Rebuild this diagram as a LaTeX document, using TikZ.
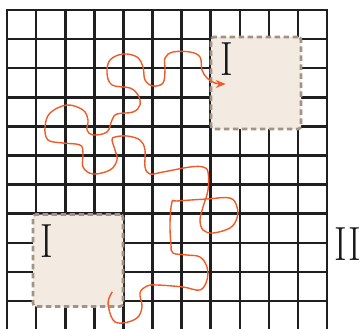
\documentclass[tikz,border=0pt]{standalone}
\definecolor{walkOrange}{HTML}{F05A28}
\definecolor{regionFill}{HTML}{F3EAE1}
\definecolor{regionEdge}{HTML}{A39386}
\usetikzlibrary{arrows.meta}

\begin{document}
\begin{tikzpicture}[x=1pt, y=-1pt,
      gridline/.style={line width=2.6pt, black!88, line cap=rect},
      region/.style={draw=regionEdge, fill=regionFill, line width=2.6pt, dash pattern=on 5.5pt off 3.5pt,
                  rounded corners=3pt, minimum width=90pt, minimum height=92pt, inner sep=0pt},
      numeral/.style={font=\fontsize{48}{48}\selectfont, inner sep=0pt, black!90, xscale=0.8, transform shape},
      walk/.style={walkOrange, line width=1.4pt, -{Stealth[length=10pt, width=8pt]}}]
    \useasboundingbox (0,0) rectangle (362,329);
    % lattice
    \foreach \i in {0,...,11}
      \draw[gridline] (7+29.1*\i,10) -- (7+29.1*\i,335);
    \foreach \j in {0,...,10}
      \draw[gridline] (7,10+29.1*\j) -- (327,10+29.1*\j);
    % the two regions
    \node[region] (regA) at (256,83) {};
    \node[region] (regB) at (78,260.5) {};
    \node[numeral] (labA) at ([shift={(17,23.5)}]regA.north west) {I};
    \node[numeral] (labB) at ([shift={(15,27.5)}]regB.north west) {I};
    \node[numeral] (labII) at (347.5,244.5) {II};
    % random walk from B to A
    \coordinate (walkstart) at ([shift={(-12,-16)}]regB.south east);
    \coordinate (walkend) at ([shift={(16,1)}]regA.west);
    \draw[walk] plot[smooth, tension=0.6] coordinates {(walkstart) (108,303) (113,320) (123,323) (137,318)
      (142,307) (140,293) (147,286) (157,285) (183,287) (200,290) (207,280) (207,267) (200,257)
      (187,255) (173,253) (171,245) (170,223) (172,202) (177,201) (207,199) (230,198) (237,207)
      (237,218) (230,228) (213,233) (203,230) (200,220) (203,207) (208,190) (208,172) (203,167)
      (190,167) (163,172) (150,174) (145,167) (145,150) (140,140) (127,136) (115,137) (112,140)
      (115,150) (117,160) (110,170) (93,174) (83,167) (83,153) (80,145) (63,143) (48,140)
      (45,127) (50,113) (67,105) (83,110) (88,120) (87,130) (93,135) (107,132) (112,120)
      (117,114) (133,112) (140,105) (138,95) (130,88) (112,85) (107,73) (110,60) (123,54)
      (137,57) (143,67) (145,80) (153,86) (163,83) (165,70) (165,58) (173,52) (190,52)
      (200,57) (202,70) (207,78) (215,83) (walkend)};
  \end{tikzpicture}
\end{document}
